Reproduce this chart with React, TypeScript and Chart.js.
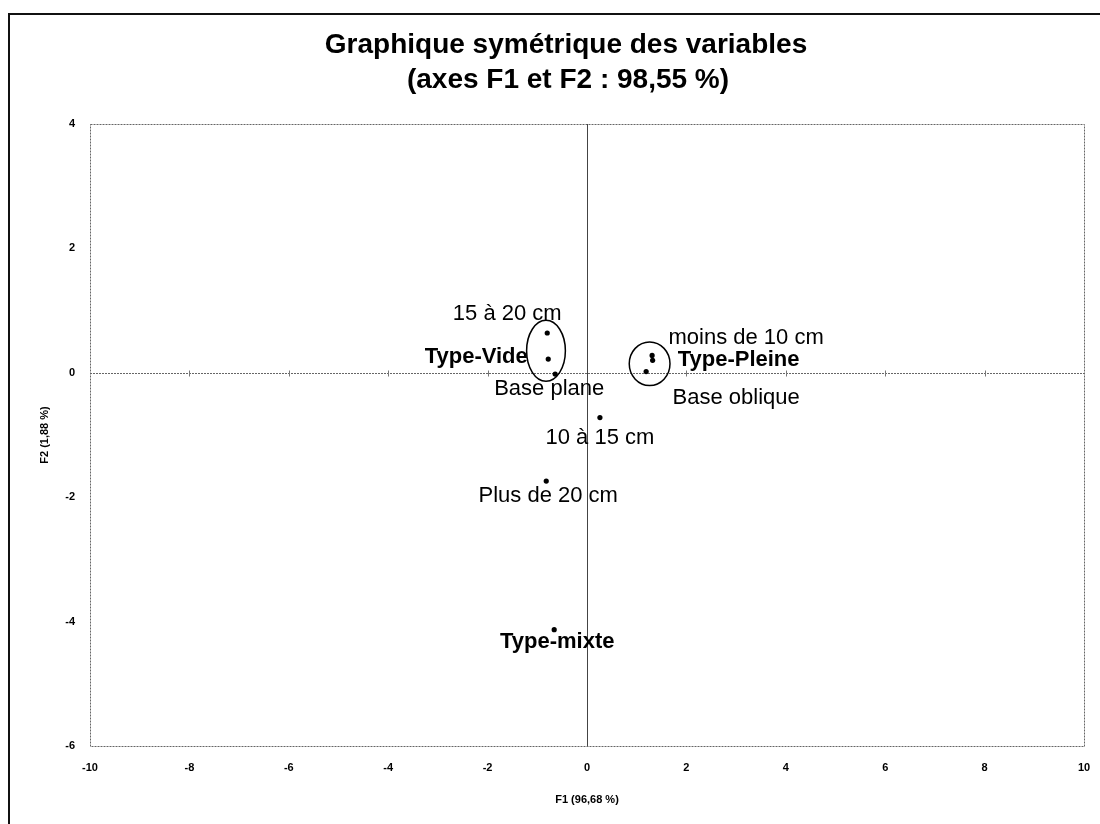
import React, { useEffect, useRef } from "react";
import { Chart, registerables } from "chart.js";

Chart.register(...registerables);

// ---- Data ----
const pointLabels = [
  "15 à 20 cm",
  "Type-Vide",
  "Base plane",
  "moins de 10 cm",
  "Type-Pleine",
  "Base oblique",
  "10 à 15 cm",
  "Plus de 20 cm",
  "Type-mixte",
];
const f1Values = [-0.8, -0.78, -0.64, 1.31, 1.32, 1.19, 0.26, -0.82, -0.66];
const f2Values = [0.64, 0.22, -0.02, 0.28, 0.2, 0.02, -0.72, -1.74, -4.13];

// circled groups (centre and radii in axis units)
const ellipseF1 = [-0.825, 1.26];
const ellipseF2 = [0.354, 0.145];
const ellipseRx = [0.39, 0.41];
const ellipseRy = [0.49, 0.35];

const xTickValues = [-10, -8, -6, -4, -2, 0, 2, 4, 6, 8, 10];
const yTickValues = [-6, -4, -2, 0, 2, 4];

const titleLines = ["Graphique symétrique des variables", "(axes F1 et F2 : 98,55 %)"];
const xTitle = "F1 (96,68 %)";
const yTitle = "F2 (1,88 %)";

// ---- Label styling (not data) ----
const labelBold = [false, true, false, false, true, false, false, false, true];
const labelDx = [-40, -72, -6, 94, 86, 90, 0, 2, 3];
const labelDy = [-19, -2, 15, -17, 0, 26, 20, 15, 12];

const FONT = "'Liberation Sans', Arial, sans-serif";

const overlayPlugin = {
  id: "overlay",
  beforeDatasetsDraw(chart: any) {
    const ctx = chart.ctx as CanvasRenderingContext2D;
    const x = chart.scales.x;
    const y = chart.scales.y;
    const { left, right, top, bottom } = chart.chartArea;
    ctx.save();

    // outer frame (left + top)
    ctx.strokeStyle = "#111";
    ctx.lineWidth = 2;
    ctx.beginPath();
    ctx.moveTo(9, 824);
    ctx.lineTo(9, 14);
    ctx.lineTo(1100, 14);
    ctx.stroke();

    // title
    ctx.fillStyle = "#000";
    ctx.font = `bold 28px ${FONT}`;
    ctx.textAlign = "center";
    ctx.textBaseline = "alphabetic";
    ctx.fillText(titleLines[0], 566, 53);
    ctx.fillText(titleLines[1], 568, 88);

    // dotted plot border
    ctx.strokeStyle = "#666";
    ctx.lineWidth = 1;
    ctx.setLineDash([2, 1]);
    ctx.strokeRect(Math.round(left) + 0.5, Math.round(top) + 0.5, Math.round(right - left), Math.round(bottom - top));

    // horizontal zero line (dotted) with small ticks
    const y0 = Math.round(y.getPixelForValue(0)) + 0.5;
    ctx.beginPath();
    ctx.moveTo(left, y0);
    ctx.lineTo(right, y0);
    ctx.stroke();
    ctx.setLineDash([]);
    ctx.strokeStyle = "#777";
    ctx.beginPath();
    for (const v of xTickValues) {
      if (v === -10 || v === 10 || v === 0) continue;
      const px = Math.round(x.getPixelForValue(v)) + 0.5;
      ctx.moveTo(px, y0 - 3);
      ctx.lineTo(px, y0 + 3);
    }
    ctx.stroke();

    // vertical zero line (solid)
    const x0 = Math.round(x.getPixelForValue(0)) + 0.5;
    ctx.strokeStyle = "#444";
    ctx.beginPath();
    ctx.moveTo(x0, top);
    ctx.lineTo(x0, bottom);
    ctx.stroke();

    // ellipses
    ctx.strokeStyle = "#000";
    ctx.lineWidth = 1.5;
    for (let i = 0; i < ellipseF1.length; i++) {
      const cx = x.getPixelForValue(ellipseF1[i]);
      const cy = y.getPixelForValue(ellipseF2[i]);
      const rx = Math.abs(x.getPixelForValue(ellipseF1[i] + ellipseRx[i]) - cx);
      const ry = Math.abs(y.getPixelForValue(ellipseF2[i] + ellipseRy[i]) - cy);
      ctx.beginPath();
      ctx.ellipse(cx, cy, rx, ry, 0, 0, Math.PI * 2);
      ctx.stroke();
    }
    ctx.restore();
  },
  afterDatasetsDraw(chart: any) {
    const ctx = chart.ctx as CanvasRenderingContext2D;
    const meta = chart.getDatasetMeta(0);
    ctx.save();
    ctx.fillStyle = "#000";
    ctx.textAlign = "center";
    ctx.textBaseline = "middle";
    meta.data.forEach((pt: any, i: number) => {
      ctx.font = `${labelBold[i] ? "bold " : ""}22px ${FONT}`;
      ctx.fillText(pointLabels[i], pt.x + labelDx[i], pt.y + labelDy[i]);
    });
    ctx.restore();
  },
};

export default function App() {
  const ref = useRef<HTMLCanvasElement | null>(null);
  useEffect(() => {
    if (!ref.current) return;
    const chart = new Chart(ref.current, {
      type: "scatter",
      data: {
        datasets: [
          {
            data: f1Values.map((v, i) => ({ x: v, y: f2Values[i] })),
            backgroundColor: "#000",
            borderColor: "#000",
            borderWidth: 0,
            pointRadius: 2.6,
          },
        ],
      },
      options: {
        animation: false,
        responsive: false,
        devicePixelRatio: 1,
        layout: { padding: { top: 124, right: 16, left: 0, bottom: 0 } },
        plugins: { legend: { display: false }, tooltip: { enabled: false }, title: { display: false } },
        scales: {
          x: {
            type: "linear",
            min: -10,
            max: 10,
            afterBuildTicks: (s: any) => {
              s.ticks = xTickValues.map((v) => ({ value: v }));
            },
            afterFit: (s: any) => {
              s.height = 78;
              s.paddingLeft = 0;
              s.paddingRight = 0;
            },
            grid: { display: false, drawTicks: false },
            border: { display: false },
            ticks: { color: "#000", font: { family: FONT, size: 11, weight: "bold" }, padding: 15, maxRotation: 0 },
            title: {
              display: true,
              text: xTitle,
              color: "#000",
              font: { family: FONT, size: 11, weight: "bold" },
              padding: { top: 0, bottom: 17 },
            },
          },
          y: {
            type: "linear",
            min: -6,
            max: 4,
            afterBuildTicks: (s: any) => {
              s.ticks = yTickValues.map((v) => ({ value: v }));
            },
            afterFit: (s: any) => {
              s.width = 90;
              s.paddingTop = 0;
              s.paddingBottom = 0;
            },
            grid: { display: false, drawTicks: false },
            border: { display: false },
            ticks: { color: "#000", font: { family: FONT, size: 11, weight: "bold" }, padding: 15 },
            title: {
              display: true,
              text: yTitle,
              color: "#000",
              font: { family: FONT, size: 11, weight: "bold" },
              padding: { top: 38, bottom: 0 },
            },
          },
        },
      } as any,
      plugins: [overlayPlugin],
    });
    return () => chart.destroy();
  }, []);
  return (
    <canvas
      ref={ref}
      width={1100}
      height={824}
      style={{ position: "absolute", left: 0, top: 0, width: 1100, height: 824, background: "#fff" }}
    />
  );
}
